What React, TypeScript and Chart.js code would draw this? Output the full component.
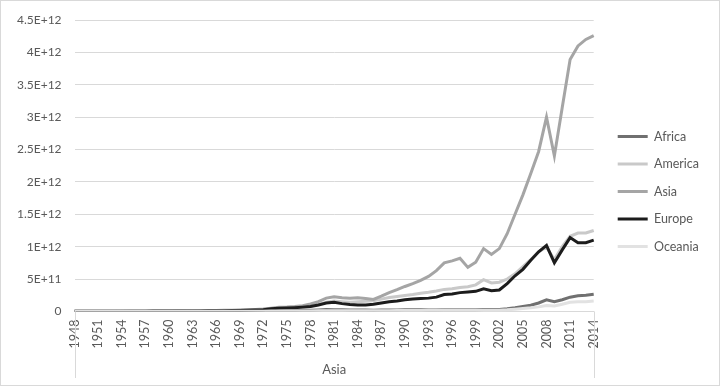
import React, { useEffect, useRef } from "react";
import { Chart, registerables } from "chart.js";

Chart.register(...registerables);

const years: string[] = Array.from({ length: 67 }, (_, i) => String(1948 + i));

const seriesNames = ["Africa", "America", "Asia", "Europe", "Oceania"];
const seriesColors = ["#707070", "#c9c9c9", "#a5a5a5", "#1c1c1c", "#e2e2e2"];

// values in units of 1E+12
const africa = [
  0.001, 0.001, 0.001, 0.001, 0.001, 0.001, 0.001, 0.001, 0.001, 0.001,
  0.001, 0.001, 0.002, 0.002, 0.002, 0.002, 0.002, 0.003, 0.003, 0.003,
  0.003, 0.004, 0.004, 0.005, 0.006, 0.008, 0.012, 0.013, 0.014, 0.016,
  0.018, 0.022, 0.028, 0.027, 0.024, 0.022, 0.021, 0.020, 0.019, 0.020,
  0.021, 0.022, 0.024, 0.024, 0.024, 0.023, 0.022, 0.024, 0.026, 0.027,
  0.025, 0.026, 0.030, 0.028, 0.029, 0.040, 0.055, 0.075, 0.095, 0.130,
  0.180, 0.150, 0.180, 0.220, 0.240, 0.250, 0.265,
];
const america = [
  0.003, 0.003, 0.003, 0.004, 0.004, 0.004, 0.005, 0.005, 0.006, 0.006,
  0.006, 0.007, 0.007, 0.008, 0.008, 0.009, 0.010, 0.011, 0.012, 0.013,
  0.015, 0.017, 0.020, 0.022, 0.026, 0.035, 0.045, 0.048, 0.055, 0.065,
  0.085, 0.105, 0.140, 0.160, 0.150, 0.140, 0.150, 0.155, 0.165, 0.190,
  0.215, 0.230, 0.245, 0.260, 0.280, 0.295, 0.315, 0.340, 0.350, 0.370,
  0.380, 0.410, 0.490, 0.440, 0.450, 0.500, 0.580, 0.690, 0.800, 0.920,
  0.990, 0.800, 1.000, 1.160, 1.210, 1.210, 1.250,
];
const asia = [
  0.002, 0.002, 0.003, 0.003, 0.003, 0.004, 0.004, 0.005, 0.005, 0.006,
  0.006, 0.007, 0.008, 0.009, 0.009, 0.010, 0.012, 0.013, 0.015, 0.017,
  0.019, 0.022, 0.026, 0.030, 0.036, 0.050, 0.065, 0.068, 0.075, 0.088,
  0.115, 0.150, 0.205, 0.225, 0.210, 0.205, 0.210, 0.200, 0.185, 0.235,
  0.290, 0.335, 0.385, 0.430, 0.480, 0.540, 0.630, 0.750, 0.780, 0.820,
  0.680, 0.760, 0.970, 0.880, 0.970, 1.200, 1.500, 1.800, 2.130, 2.470,
  3.000, 2.400, 3.150, 3.890, 4.100, 4.200, 4.260,
];
const europe = [
  0.002, 0.002, 0.002, 0.003, 0.003, 0.003, 0.003, 0.004, 0.004, 0.004,
  0.005, 0.005, 0.006, 0.006, 0.007, 0.007, 0.008, 0.009, 0.010, 0.011,
  0.012, 0.014, 0.017, 0.020, 0.024, 0.040, 0.048, 0.052, 0.058, 0.066,
  0.075, 0.100, 0.130, 0.140, 0.120, 0.105, 0.100, 0.100, 0.110, 0.130,
  0.150, 0.160, 0.180, 0.190, 0.200, 0.205, 0.220, 0.260, 0.270, 0.290,
  0.300, 0.310, 0.350, 0.320, 0.330, 0.430, 0.550, 0.650, 0.790, 0.920,
  1.020, 0.750, 0.950, 1.140, 1.060, 1.060, 1.100,
];
const oceania = [
  0.001, 0.001, 0.001, 0.001, 0.001, 0.001, 0.001, 0.001, 0.001, 0.001,
  0.001, 0.001, 0.001, 0.001, 0.001, 0.001, 0.001, 0.002, 0.002, 0.002,
  0.002, 0.002, 0.003, 0.003, 0.004, 0.005, 0.006, 0.006, 0.007, 0.007,
  0.008, 0.009, 0.010, 0.011, 0.011, 0.010, 0.010, 0.009, 0.009, 0.010,
  0.011, 0.012, 0.012, 0.012, 0.012, 0.013, 0.014, 0.016, 0.017, 0.017,
  0.016, 0.017, 0.018, 0.017, 0.018, 0.025, 0.035, 0.045, 0.055, 0.070,
  0.090, 0.085, 0.110, 0.140, 0.150, 0.150, 0.160,
];

const yTickLabels = [
  "0", "5E+11", "1E+12", "1.5E+12", "2E+12", "2.5E+12", "3E+12", "3.5E+12", "4E+12", "4.5E+12",
];
const xTitle = "Asia";

const UNIT = 1e12;
const FONT = "Lato, 'Open Sans', sans-serif";
const TEXT = "#595959";
const GRID = "#d9d9d9";

const groupLines = {
  id: "groupLines",
  afterDraw(chart: any) {
    const { ctx } = chart;
    const x = chart.scales.x;
    ctx.save();
    ctx.strokeStyle = GRID;
    ctx.lineWidth = 1;
    [x.left, x.right].forEach((px: number) => {
      const p = Math.round(px) + 0.5;
      ctx.beginPath();
      ctx.moveTo(p, x.top);
      ctx.lineTo(p, x.bottom);
      ctx.stroke();
    });
    ctx.restore();
  },
};

export default function App() {
  const ref = useRef<HTMLCanvasElement>(null);
  useEffect(() => {
    document.body.style.margin = "0";
    const all = [africa, america, asia, europe, oceania];
    const chart = new Chart(ref.current!, {
      type: "line",
      data: {
        labels: years,
        datasets: all.map((arr, i) => ({
          label: seriesNames[i],
          data: arr.map((v) => v * UNIT),
          borderColor: seriesColors[i],
          backgroundColor: seriesColors[i],
          borderWidth: 3,
          pointRadius: 0,
          tension: 0,
          yAxisID: "y",
          order: all.length - 1 - i,
        })),
      },
      options: {
        animation: false,
        responsive: true,
        maintainAspectRatio: false,
        layout: { padding: { left: 3, right: 10, top: 4, bottom: 7 } },
        plugins: {
          tooltip: { enabled: false },
          legend: {
            position: "right",
            labels: {
              boxWidth: 30,
              boxHeight: 3,
              padding: 15,
              color: TEXT,
              font: { family: FONT, size: 12.5 },
              sort: (a: any, b: any) => a.datasetIndex - b.datasetIndex,
              generateLabels: (chart: any) =>
                chart.data.datasets.map((ds: any, i: number) => ({
                  text: ds.label,
                  fillStyle: ds.borderColor,
                  strokeStyle: ds.borderColor,
                  lineWidth: 0,
                  hidden: false,
                  datasetIndex: i,
                  fontColor: TEXT,
                })),
            },
          },
        },
        scales: {
          x: {
            offset: false,
            grid: { display: false, drawTicks: false },
            border: { display: true, color: GRID, width: 1 },
            ticks: {
              autoSkip: false,
              minRotation: 90,
              maxRotation: 90,
              padding: 8,
              color: TEXT,
              font: { family: FONT, size: 12.5 },
              callback: (_v: any, i: number) => (i % 3 === 0 ? years[i] : null),
            },
            title: {
              display: true,
              text: xTitle,
              color: TEXT,
              font: { family: FONT, size: 13 },
              padding: { top: 6, bottom: 0 },
            },
          },
          y: {
            min: 0,
            max: 4.5 * UNIT,
            border: { display: false },
            grid: { color: GRID, lineWidth: 1, drawTicks: false },
            ticks: {
              stepSize: 0.5 * UNIT,
              padding: 13,
              color: TEXT,
              font: { family: FONT, size: 12, lineHeight: 1 },
              callback: (_v: any, i: number) => yTickLabels[i],
            },
          },
          gap: {
            type: "linear",
            position: "right",
            display: true,
            grid: { display: false, drawTicks: false },
            border: { display: false },
            ticks: { display: false },
            afterFit: (s: any) => {
              s.width = 9;
            },
          },
        },
      },
      plugins: [groupLines],
    });
    return () => chart.destroy();
  }, []);
  return (
    <div
      style={{
        width: 720,
        height: 386,
        border: "1px solid #d9d9d9",
        boxSizing: "border-box",
        position: "relative",
      }}
    >
      <canvas ref={ref} />
    </div>
  );
}
